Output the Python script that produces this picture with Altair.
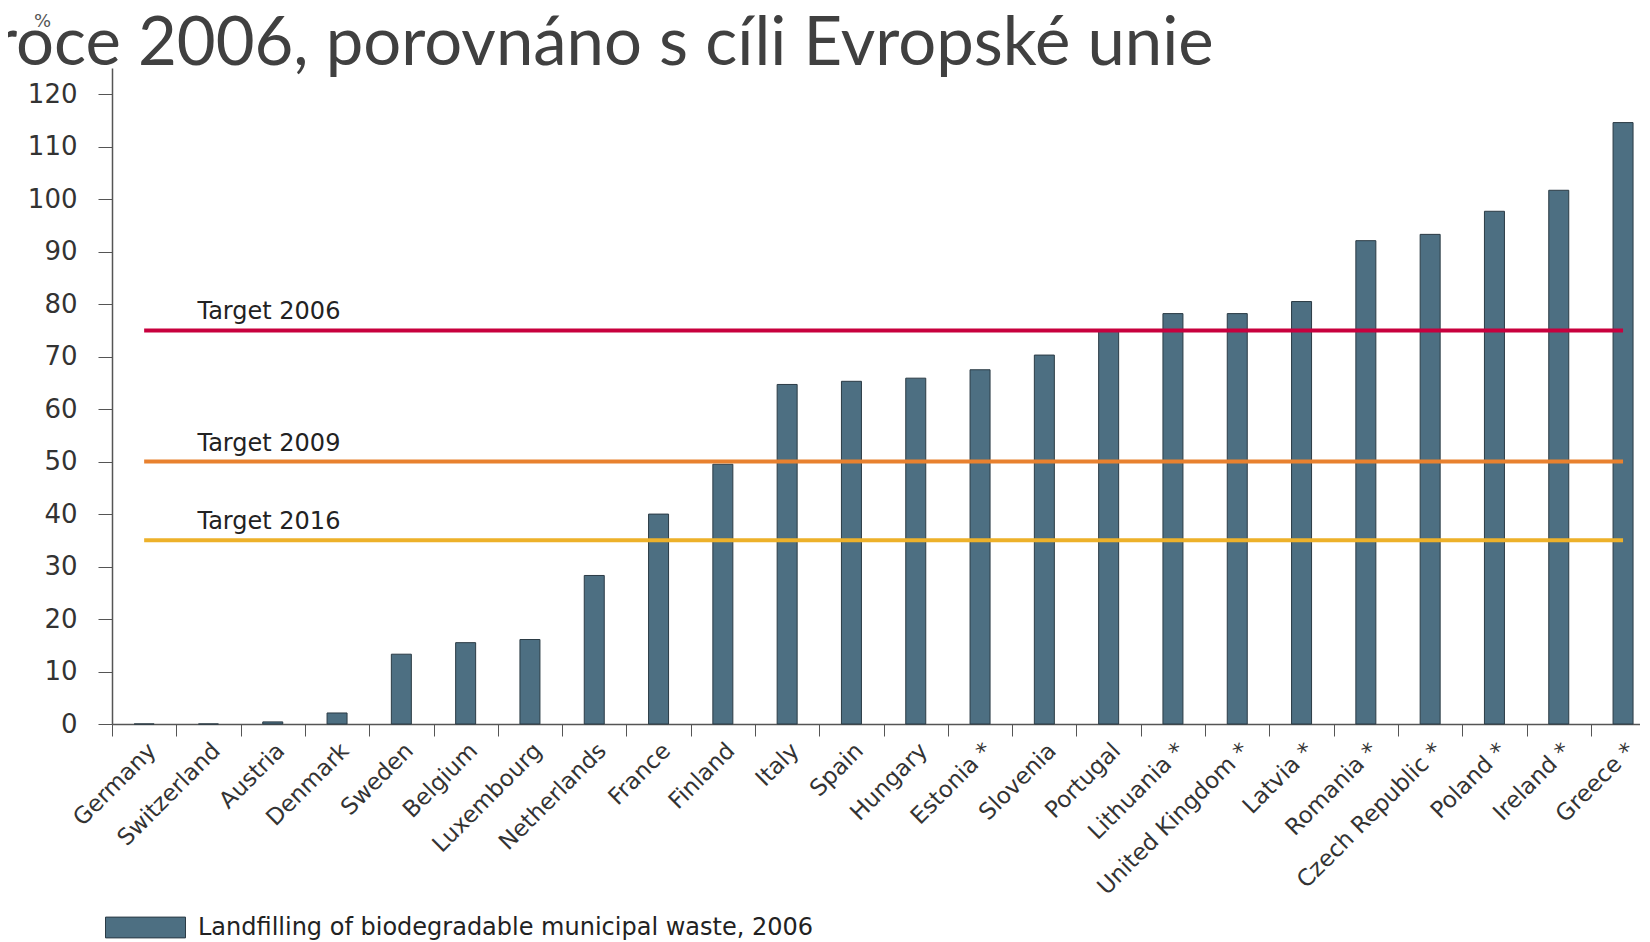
import altair as alt
import pandas as pd

# ---- data ----
COUNTRIES = ["Germany", "Switzerland", "Austria", "Denmark", "Sweden", "Belgium",
             "Luxembourg", "Netherlands", "France", "Finland", "Italy", "Spain",
             "Hungary", "Estonia *", "Slovenia", "Portugal", "Lithuania *",
             "United Kingdom *", "Latvia *", "Romania *", "Czech Republic *",
             "Poland *", "Ireland *", "Greece *"]
VALUES = [0, 0, 0.4, 2.1, 13.3, 15.5, 16.1, 28.3, 40.0, 49.5, 64.7, 65.3,
          65.9, 67.5, 70.3, 74.8, 78.2, 78.2, 80.5, 92.1, 93.3, 97.7, 101.7, 114.6]
TARGET_NAMES = ["Target 2006", "Target 2009", "Target 2016"]
TARGET_VALUES = [75, 50, 35]
Y_TICKS = [0, 10, 20, 30, 40, 50, 60, 70, 80, 90, 100, 110, 120]
SERIES = "Landfilling of biodegradable municipal waste, 2006"
TITLE = "roce 2006, porovnáno s cíli Evropské unie"

TARGET_COLORS = ["#c8003e", "#e8812f", "#edb12a"]
BAR_COLOR = "#4d6f82"
FONT = "DejaVu Sans"

STEP = 64.3
PLOT_W = 1528
PLOT_H = 656

bars_df = pd.DataFrame({"country": COUNTRIES, "value": VALUES, "series": SERIES})

x = alt.X("country:N", sort=COUNTRIES,
          scale=alt.Scale(paddingInner=0, paddingOuter=0, range=[0, STEP * len(COUNTRIES)]),
          axis=alt.Axis(title=None, labelAngle=-45, labelFontSize=23, labelFont=FONT,
                        labelColor="#333333", tickBand="extent", tickSize=12,
                        tickColor="#555555", domainColor="#555555", domainWidth=1.5,
                        labelPadding=3, labelLimit=0))
y = alt.Y("value:Q", scale=alt.Scale(domain=[0, 125], nice=False),
          axis=alt.Axis(values=Y_TICKS, title="%", titleAngle=0, titleX=-70, titleY=-47,
                        titleAlign="center", titleBaseline="middle", titleFontSize=18,
                        titleFont=FONT, titleFontWeight="normal", titleColor="#555555",
                        labelFontSize=26, labelFont=FONT, labelColor="#333333",
                        tickSize=14, labelPadding=21, tickColor="#555555",
                        domainColor="#555555", domainWidth=1.5, grid=False))

bars = alt.Chart(bars_df).mark_bar(size=20, stroke="#2b3b45", strokeWidth=1).encode(
    x=x, y=y,
    color=alt.Color("series:N",
                    scale=alt.Scale(domain=[SERIES], range=[BAR_COLOR]),
                    legend=alt.Legend(title=None, orient="none", legendX=-7, legendY=819,
                                      symbolType="M-1,-0.26H1V0.26H-1Z", symbolSize=6400,
                                      symbolStrokeColor="#2b3b45", symbolStrokeWidth=1,
                                      symbolOpacity=1,
                                      labelFontSize=24, labelFont=FONT, labelColor="#222222",
                                      labelLimit=0, labelOffset=12, padding=0)),
)

layers = [bars]
for name, val, col in zip(TARGET_NAMES, TARGET_VALUES, TARGET_COLORS):
    ldf = pd.DataFrame({"country": COUNTRIES, "value": [val] * len(COUNTRIES)})
    layers.append(alt.Chart(ldf).mark_line(color=col, strokeWidth=4).encode(
        x=alt.X("country:N", sort=COUNTRIES), y=alt.Y("value:Q")))
    tdf = pd.DataFrame({"country": [COUNTRIES[1]], "value": [val], "label": [name]})
    layers.append(alt.Chart(tdf).mark_text(align="left", baseline="alphabetic", dx=-11, dy=-11,
                                           fontSize=24, font=FONT, color="#222222").encode(
        x=alt.X("country:N", sort=COUNTRIES), y=alt.Y("value:Q"), text="label:N"))

chart = alt.layer(*layers).properties(
    width=PLOT_W, height=PLOT_H,
    padding={"left": 104, "top": 60, "right": 0, "bottom": 224},
    autosize=alt.AutoSizeParams(type="none"),
    title=alt.Title(TITLE, anchor="start", frame="group", font="Lato", fontSize=67,
                    fontWeight="normal", color="#404040", baseline="alphabetic",
                    offset=0, dx=-119, dy=120),
).configure_view(stroke=None)

chart.save("out.html", embed_options={"renderer": "svg", "actions": False})
